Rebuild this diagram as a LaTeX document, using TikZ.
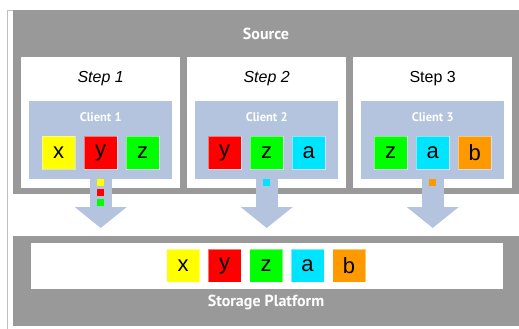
\documentclass[tikz,border=0pt]{standalone}
\usepackage{fontspec}
\setmainfont{Liberation Sans}
\newfontfamily\labelfont{PT Sans}
\usetikzlibrary{arrows.meta}
\definecolor{srcgray}{RGB}{153,153,153}
\definecolor{framegray}{RGB}{190,190,190}
\definecolor{clientblue}{RGB}{180,196,222}
\definecolor{itemx}{RGB}{255,255,0}
\definecolor{itemy}{RGB}{255,0,0}
\definecolor{itemz}{RGB}{0,255,0}
\definecolor{itema}{RGB}{0,229,255}
\definecolor{itemb}{RGB}{255,153,0}
\begin{document}
\begin{tikzpicture}[x=1pt,y=-1pt,line join=round,
	panel/.style={fill=srcgray, inner sep=0, anchor=north west, minimum width=506pt},
	stepbox/.style={fill=white, inner sep=0, anchor=north west, minimum width=159pt, minimum height=131pt},
	clientbox/.style={fill=clientblue, inner sep=0, anchor=north west, minimum width=143pt, minimum height=78pt},
	tag/.style={text=white, font=\labelfont\bfseries\fontsize{16}{18}\selectfont},
	steplabel/.style={font=\fontsize{16}{18}\selectfont},
	item/.style={fill=#1, draw=white, draw opacity=.45, line width=.8pt, minimum size=33pt, inner sep=0,
		font=\fontsize{22}{24}\selectfont},
	dot/.style={fill=#1, minimum size=7pt, inner sep=0},
	flow/.style={clientblue, line width=22pt, -{Triangle[width=51pt,length=21pt]}}]
	\useasboundingbox (0,0) rectangle (519,329);
	\draw[framegray] (7.5,329) -- (7.5,10.5) -- (13,10.5);
	% Source
	\node[panel, minimum height=184pt] (source) at (13,10) {};
	\node[tag] (srclabel) at (266,34) {Source};
	\node[stepbox] (s1) at (21,57) {};
	\node[stepbox] (s2) at (187,57) {};
	\node[stepbox] (s3) at (353,57) {};
	\node[steplabel] (l1) at (s1.center |- 0,79) {\itshape Step 1};
	\node[steplabel] (l2) at (s2.center |- 0,79) {\itshape Step 2};
	\node[steplabel] (l3) at (s3.center |- 0,79) {Step 3};
	\node[clientbox] (c1) at (29,100.5) {};
	\node[clientbox] (c2) at (195,100.5) {};
	\node[clientbox] (c3) at (361,100.5) {};
	\foreach \i in {1,2,3}
		\node[tag, font=\labelfont\bfseries\fontsize{12.5}{14}\selectfont] (ct\i) at (c\i.center |- 0,117) {Client \i};
	\node[item=itemx] (c1x) at ([xshift=-42pt]c1.center |- 0,152.5) {x};
	\node[item=itemy] (c1y) at (c1.center |- 0,152.5) {y};
	\node[item=itemz] (c1z) at ([xshift=42pt]c1.center |- 0,152.5) {z};
	\node[item=itemy] (c2y) at ([xshift=-42pt]c2.center |- 0,152.5) {y};
	\node[item=itemz] (c2z) at (c2.center |- 0,152.5) {z};
	\node[item=itema] (c2a) at ([xshift=42pt]c2.center |- 0,152.5) {a};
	\node[item=itemz] (c3z) at ([xshift=-42pt]c3.center |- 0,152.5) {z};
	\node[item=itema] (c3a) at (c3.center |- 0,152.5) {a};
	\node[item=itemb] (c3b) at ([xshift=42pt]c3.center |- 0,152.5) {b};
	% Storage Platform
	\node[panel, minimum height=90pt] (store) at (13,236) {};
	\node[fill=white, inner sep=0, anchor=north west, minimum width=472pt, minimum height=46pt] (shelf) at (31,243) {};
	\node[tag] (stlabel) at (266,302) {Storage Platform};
	\foreach \n/\k in {x/0,y/1,z/2,a/3,b/4}
		\node[item=item\n] (st\n) at (183+41.5*\k,265.5) {\n};
	% arrows down to the platform
	\coordinate (land) at (0,228);
	\foreach \i in {1,2,3}
		\draw[flow] (c\i.south) -- (c\i.south |- land);
	\node[dot=itemx] (d1x) at ([yshift=-4pt]c1.south) {};
	\node[dot=itemy] (d1y) at ([yshift=-14pt]c1.south) {};
	\node[dot=itemz] (d1z) at ([yshift=-24pt]c1.south) {};
	\node[dot=itema] (d2a) at ([yshift=-4pt]c2.south) {};
	\node[dot=itemb] (d3b) at ([yshift=-4pt]c3.south) {};
\end{tikzpicture}
\end{document}
